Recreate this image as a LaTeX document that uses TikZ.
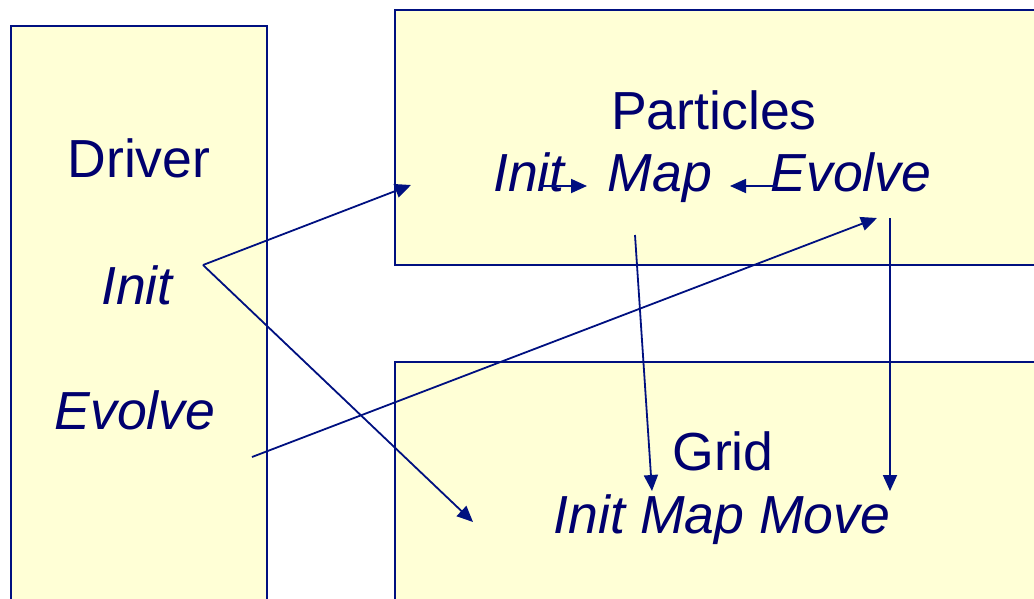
\documentclass[tikz,border=0pt]{standalone}
\usepackage{fontspec}
\setmainfont{Liberation Sans}
\usetikzlibrary{arrows.meta}
\definecolor{boxfill}{RGB}{255,255,214}
\definecolor{navy}{RGB}{0,16,128}
\definecolor{txt}{RGB}{0,0,110}
\tikzset{
  panel/.style={draw=navy, fill=boxfill, line width=2pt},
  lbl/.style={anchor=base, inner sep=0pt, text=txt, font=\fontsize{53.6}{60}\selectfont},
  fn/.style={lbl, font=\fontsize{53.6}{60}\selectfont\itshape},
  conn/.style={draw=navy, line width=1.8pt, -{Triangle[length=16pt,width=14pt]}}
}
\begin{document}
\begin{tikzpicture}[x=1pt,y=-1pt]
\useasboundingbox (0,0) rectangle (1034,598);
\clip (0,0) rectangle (1034,598);
% panels
\path[panel] (11,26) rectangle (267,610);
\path[panel] (395,10) rectangle (1045,265);
\path[panel] (395,362) rectangle (1045,610);
% driver texts
\node[lbl] (driver) at (139,177) {Driver};
\node[fn] (dinit) at (137,304) {Init};
\node[fn] (devolve) at (135,429) {Evolve};
% particles texts
\node[lbl] (particles) at (714,129) {Particles};
\node[fn] (pinit) at (529,191) {Init};
\node[fn] (pmap) at (660,191) {Map};
\node[fn] (pevolve) at (851,191) {Evolve};
% grid texts
\node[lbl] (grid) at (723,470) {Grid};
\node[fn] (gfuncs) at (722,533) {Init Map Move};
% connector end points
\coordinate (dsplit) at (203,265);
\coordinate (ptarget) at (411,185);
\coordinate (gtarget) at (473,522);
\coordinate (evstart) at (252,457);
\coordinate (evtarget) at (877,218);
\coordinate (initout) at (540,186);
\coordinate (mapin) at (587,186);
\coordinate (evout) at (776,186);
\coordinate (mapin2) at (730,186);
\coordinate (mapdown) at (635,235);
\coordinate (gmap) at (652,491);
\coordinate (evdown) at (890,218);
\coordinate (gmove) at (890,491);
% connectors
\draw[conn] (dsplit) -- (ptarget);
\draw[conn] (dsplit) -- (gtarget);
\draw[conn] (evstart) -- (evtarget);
\draw[conn] (initout) -- (mapin);
\draw[conn] (evout) -- (mapin2);
\draw[conn] (mapdown) -- (gmap);
\draw[conn] (evdown) -- (gmove);
\end{tikzpicture}
\end{document}
